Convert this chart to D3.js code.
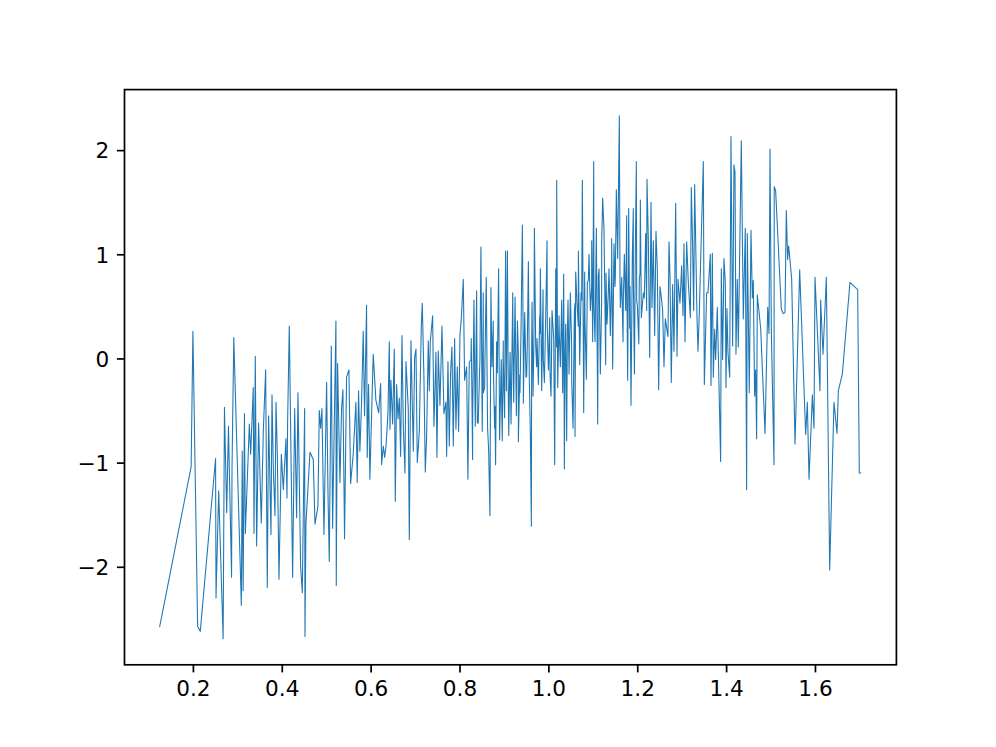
<!DOCTYPE html>
<html lang="en">
<head>
<meta charset="utf-8">
<title>Noisy series</title>
<script src="https://d3js.org/d3.v7.min.js"></script>
<style>
	body { margin: 0; background: #fff; }
	text { font-family: "DejaVu Sans", sans-serif; font-size: 21.6px; fill: #000; }
</style>
</head>
<body>
<script>
// values (x, y): peaks and troughs
var xs = [
	0.125, 0.196, 0.200, 0.2106, 0.2166, 0.251, 0.252, 0.258, 0.268, 0.271, 0.276, 0.280, 0.287, 0.288, 0.292, 0.309, 0.311, 0.313, 0.316, 0.318, 0.327, 0.330,
	0.3358, 0.3375, 0.3404, 0.3434, 0.3479, 0.3539, 0.3584, 0.3637, 0.3674, 0.3704, 0.3757, 0.378, 0.381, 0.3847, 0.387, 0.390, 0.3937, 0.399, 0.4035, 0.4094,
	0.4117, 0.4132, 0.4169, 0.4244, 0.429, 0.4334, 0.4364, 0.4424, 0.4462, 0.4514, 0.4522, 0.4544, 0.4634, 0.4709, 0.4747, 0.4814, 0.4844, 0.4874, 0.4904,
	0.4949, 0.5009, 0.5039, 0.5069, 0.5114, 0.5144, 0.5174, 0.5219, 0.5226, 0.5256, 0.5309, 0.5346, 0.5376, 0.5413, 0.5458, 0.5511, 0.5549, 0.5608, 0.5668,
	0.5698, 0.5728, 0.5758, 0.5796, 0.5833, 0.5863, 0.5908, 0.5923, 0.5953, 0.5983, 0.6058, 0.6118, 0.618,
	0.6225, 0.6247, 0.6285, 0.6315, 0.6345, 0.639, 0.642, 0.6435, 0.6457, 0.6495, 0.6532, 0.6555, 0.6585, 0.6615, 0.6645, 0.6675, 0.6705, 0.6735, 0.6772,
	0.6795, 0.6847, 0.687, 0.6907, 0.696, 0.699, 0.702, 0.705, 0.7095, 0.714, 0.7162, 0.72, 0.723, 0.726, 0.7297, 0.732, 0.7342, 0.7395, 0.7425, 0.747,
	0.7492, 0.7522, 0.756, 0.7605, 0.765, 0.7695, 0.771, 0.774, 0.777, 0.780, 0.783, 0.786, 0.789, 0.792, 0.795, 0.798, 0.801, 0.804, 0.8085, 0.8115,
	0.816, 0.819, 0.822, 0.8265, 0.8295, 0.8325, 0.8355, 0.8385, 0.8422, 0.846, 0.8482, 0.8512, 0.8535, 0.8565, 0.8602, 0.8632, 0.8655, 0.8685, 0.8707,
	0.873, 0.876, 0.879, 0.8812, 0.8835, 0.888, 0.8902, 0.894, 0.8962, 0.8985, 0.9015, 0.9037,
	0.9056, 0.9078, 0.9108, 0.9138, 0.916, 0.9198, 0.922, 0.925, 0.928, 0.9303, 0.9325, 0.9355, 0.9385, 0.9415, 0.9437, 0.9467, 0.9497, 0.9527, 0.955,
	0.9572, 0.9595, 0.9617, 0.9632, 0.9655, 0.9685, 0.9715, 0.9745, 0.9775, 0.9805, 0.982, 0.985, 0.988, 0.991, 0.994, 0.997, 1.000, 1.003, 1.006, 1.0082,
	1.012, 1.0142, 1.0165, 1.0187, 1.021, 1.024, 1.027, 1.030, 1.0322, 1.0345, 1.036, 1.039, 1.0412, 1.0442, 1.0465, 1.0495, 1.0525, 1.0555, 1.0585, 1.060,
	1.0615, 1.0645, 1.0675, 1.0705, 1.0735, 1.0765, 1.0795, 1.0817, 1.0855, 1.0877, 1.0915, 1.0945, 1.0975, 1.0997, 1.102, 1.105, 1.108, 1.111, 1.114,
	1.117, 1.120, 1.1222, 1.1252, 1.129, 1.132, 1.1365, 1.1395, 1.1425, 1.1447, 1.1477, 1.1507, 1.153, 1.156, 1.1597, 1.162, 1.165, 1.168, 1.171, 1.174,
	1.1762, 1.1785, 1.1807, 1.183, 1.186, 1.189, 1.1912,
	1.1937, 1.1957, 1.198, 1.2005, 1.2035, 1.2047, 1.207, 1.2092, 1.213, 1.216, 1.219, 1.2212, 1.222, 1.225, 1.228, 1.231, 1.2332, 1.2362, 1.2392, 1.2422,
	1.2452, 1.2482, 1.2512, 1.2542, 1.2572, 1.2602, 1.2632, 1.2692, 1.2715, 1.2737, 1.2767, 1.2797, 1.2827, 1.2865, 1.2895, 1.2917, 1.2962, 1.300, 1.303,
	1.3052, 1.3075, 1.3112, 1.315, 1.3195, 1.3217, 1.3247, 1.327, 1.3292, 1.3322, 1.3345, 1.3367, 1.3397, 1.3442, 1.3487, 1.351, 1.3562, 1.3592, 1.3645,
	1.366, 1.369, 1.3712, 1.3742, 1.3765, 1.3802, 1.3877, 1.3892, 1.3922, 1.3952, 1.3982, 1.3997, 1.402, 1.4042, 1.408, 1.411, 1.4147, 1.4177, 1.420,
	1.4222, 1.4252, 1.4275, 1.4342, 1.4387, 1.4432, 1.4462, 1.4477, 1.4522, 1.456, 1.459, 1.4612, 1.4642, 1.4665, 1.4687, 1.4702,
	1.4778, 1.4876, 1.4936, 1.4966, 1.4988, 1.5018, 1.5078, 1.5083, 1.5115, 1.5243, 1.5288, 1.5325, 1.5355, 1.5385, 1.5408, 1.5476, 1.5551, 1.5656,
	1.5791, 1.5828, 1.5866, 1.5941, 1.5978, 1.6001, 1.6113, 1.6128, 1.6181, 1.6256, 1.6331, 1.6428, 1.6496, 1.6526, 1.6616, 1.6788, 1.6961, 1.6998, 1.7043
];
var ys = [
	-2.58, -1.04, 0.26, -2.57, -2.62, -0.96, -2.30, -1.27, -2.69, -0.47, -1.48, -0.65, -2.10, -1.06, 0.20, -2.37, -0.89, -2.23, -0.53, -1.68, -0.63, -0.92,
	-0.28, -1.68, 0.02, -1.80, -0.62, -1.58, -0.70, -0.11, -2.20, -0.55, -1.69, -0.35, -1.06, -1.51, -0.42, -0.92, -2.12, -0.92, -1.26, -0.77,
	-1.34, -0.60, 0.31, -2.10, -0.48, -1.53, -0.33, -2.00, -2.25, -0.48, -2.67, -1.59, -0.90, -0.97, -1.59, -1.42, -0.50, -0.67, -0.48,
	-1.69, -0.23, -1.27, -1.95, 0.12, -1.63, -0.82, 0.36, -2.18, -0.05, -1.19, -0.48, -0.30, -1.73, -0.18, -0.11, -1.20, -0.92, -0.42,
	-1.19, -0.31, -0.89, -0.42, 0.26, -0.55, 0.51, -0.95, -0.25, -1.16, 0.04, -0.40, -0.52,
	-0.24, -1.02, -0.84, -0.95, -0.85, -0.52, 0.16, -0.68, -0.21, -0.63, 0.09, -1.37, -0.25, -0.58, -0.38, -0.94, 0.22, -0.65, -1.10,
	-0.03, -0.48, -1.74, 0.17, -0.89, 0.01, 0.09, -1.00, -0.70, 0.31, 0.53, -0.20, -1.09, -0.75, 0.17, -0.31, 0.16, 0.41, -0.65, 0.06,
	-0.95, 0.07, -0.45, 0.31, -0.53, -0.42, -0.94, -0.03, -0.84, -0.13, 0.11, -0.84, 0.19, -0.68, -0.08, -0.70, 0.22, 0.38, 0.76, -0.21,
	-0.08, -1.16, -0.04, 0.19, -0.97, 0.56, -0.65, 0.65, -0.62, -0.01, 1.07, -0.70, 0.63, -0.28, 0.78, -0.67, -0.87, -1.51, 0.68,
	-0.08, 0.36, -0.67, -1.02, 0.16, 0.86, -0.78, -0.01, -0.79, 0.17, -0.57, 1.03,
	-0.31, 1.03, -0.74, 0.06, -0.63, 0.63, -0.42, 0.59, -0.55, 0.36, -0.80, -0.16, 0.29, 1.28, -0.43, 0.44, -0.18, 0.16, 0.93,
	-0.21, -0.74, -1.61, 0.54, -0.36, 1.25, 0.12, 0.19, -0.25, 0.41, 0.86, -0.31, 0.66, -0.23, 0.39, 1.13, -0.11, 0.39, -0.36, 0.46,
	0.19, -1.02, 0.86, 1.71, -0.28, 0.41, -0.08, 0.56, -0.33, 0.81, -1.06, 0.33, -0.79, 0.56, -0.15, 0.63, -0.21, -0.67, 0.46, -0.75,
	0.83, 0.53, 1.03, -0.06, 0.63, 1.71, -0.52, 0.83, -0.20, 0.73, 1.00, 0.46, 1.13, 0.16, 1.89, 0.16, 1.25, -0.63, 0.86,
	-0.15, 1.10, 1.54, 1.24, -0.06, 0.33, 0.86, 0.22, 1.15, -0.10, 1.10, 0.78, 1.62, 0.96, 2.33, 0.49, 0.78, 0.16, 1.00, 0.46,
	1.37, -0.21, 1.44, 0.29, -0.45, 1.00, 1.44,
	-0.15, 1.03, 1.89, 0.49, 0.14, 0.76, 1.52, 0.39, 0.59, 0.58, 1.20, 0.46, 1.72, 1.13, 0.01, 1.50, 0.49, 1.13, 0.22, 1.22,
	0.86, -0.30, 0.69, 0.59, 0.46, -0.08, 0.38, 0.21, 1.12, 0.80, -0.23, 0.71, 0.07, 1.49, 0.02, 0.76, 0.53, 0.89, 0.41,
	1.10, 0.16, 1.12, 0.73, 0.39, 1.64, 1.07, 0.46, 1.67, 0.96, 0.39, 0.07, 0.44, 1.18, 1.89, -0.25, 0.63, 0.63, 1.00,
	-0.26, 1.01, -0.18, 0.28, -0.01, 0.49, -0.99, 0.86, -0.01, 0.96, 0.73, -0.28, 0.48, 0.06, -0.18, 2.13, 0.12, 1.86, 1.79,
	0.04, 0.76, 0.11, 2.09, 0.38, 1.25, -1.26, 1.20, -0.33, 1.23, 0.58, 0.75, -0.36, -0.11, -0.77, 0.61,
	0.29, -0.72, 0.49, 0.24, 2.01, 0.26, -1.02, 1.65, 1.61, 0.47, 0.43, 0.44, 1.42, 0.95, 1.08, 0.76, -0.82, 0.85,
	-0.73, -0.42, -1.16, -0.35, -0.67, 0.78, -0.31, 0.56, 0.04, 0.78, -2.03, -0.42, -0.72, -0.31, -0.15, 0.73, 0.66, -1.10, -1.10
];
var xsCore = [
	0.8258, 0.8296, 0.8341, 0.8401, 0.8446, 0.8536, 0.8573, 0.8626, 0.8762, 0.8798, 0.8851, 0.8948, 0.8986, 0.9098, 0.9136, 0.9211, 0.9324, 0.9361,
	0.9436, 0.9511, 0.9624, 0.9676, 0.9736, 0.9811, 0.9886, 0.9976, 1.0036, 1.0186, 1.0246, 1.0374, 1.0427, 1.0524, 1.0599, 1.0674, 1.0749, 1.0824,
	1.0899, 1.0974, 1.1026, 1.1124, 1.1199, 1.1297, 1.1349, 1.1424, 1.1499, 1.1612, 1.1687, 1.1763, 1.1838, 1.1913, 1.1988, 1.2063, 1.2138, 1.2213
];
var ysCore = [
	-0.01, -0.59, -0.14, -0.62, -0.21, -0.33, -0.01, -0.40, -0.08, -0.46, -0.14, -0.40, -0.01, -0.33, 0.05, -0.21, 0.05, -0.33,
	-0.01, -0.17, 0.11, 0.24, -0.08, 0.24, -0.01, 0.31, -0.14, 0.11, 0.24, -0.01, 0.24, 0.11, 0.53, 0.31, 0.56, 0.37,
	0.75, 0.69, 0.50, 0.79, 0.56, 0.82, 0.63, 0.88, 0.69, 0.75, 0.56, 0.88, 0.69, 0.75, 0.56, 0.82, 0.63, 0.94
];
var xTicks = [0.2, 0.4, 0.6, 0.8, 1.0, 1.2, 1.4, 1.6];
var yTicks = [-2, -1, 0, 1, 2];

var W = 996, H = 747;
var margin = {top: 89.6, right: 99.6, bottom: 82.2, left: 124.5};
var width = W - margin.left - margin.right,
	height = H - margin.top - margin.bottom;

var data = xs.map(function(x, i) { return {x: x, y: ys[i]}; })
	.concat(xsCore.map(function(x, i) { return {x: x, y: ysCore[i]}; }))
	.sort(function(a, b) { return a.x - b.x; });

// matplotlib style 5% padding
function padded(ext) {
	var p = (ext[1] - ext[0]) * 0.05;
	return [ext[0] - p, ext[1] + p];
}

var x = d3.scaleLinear().domain(padded(d3.extent(data, function(d) { return d.x; }))).range([0, width]);
var y = d3.scaleLinear().domain(padded(d3.extent(data, function(d) { return d.y; }))).range([height, 0]);

var svg = d3.select("body").append("svg")
	.attr("width", W)
	.attr("height", H)
	.append("g")
	.attr("transform", "translate(" + margin.left + "," + margin.top + ")");

svg.append("clipPath").attr("id", "clip")
	.append("rect").attr("width", width).attr("height", height);

var line = d3.line()
	.x(function(d) { return x(d.x); })
	.y(function(d) { return y(d.y); });

svg.append("path")
	.datum(data)
	.attr("clip-path", "url(#clip)")
	.attr("fill", "none")
	.attr("stroke", "#1f77b4")
	.attr("stroke-width", 1.08)
	.attr("stroke-linejoin", "round")
	.attr("d", line);

var fmtX = d3.format(".1f");
var fmtY = function(v) { return String(v).replace("-", "\u2212"); };

var xAxis = svg.append("g")
	.attr("transform", "translate(0," + height + ")")
	.call(d3.axisBottom(x).tickValues(xTicks).tickFormat(fmtX).tickSize(7.6).tickPadding(7.6));

var yAxis = svg.append("g")
	.call(d3.axisLeft(y).tickValues(yTicks).tickFormat(fmtY).tickSize(7.6).tickPadding(7.6));

[xAxis, yAxis].forEach(function(a) {
	a.select(".domain").remove();
	a.selectAll(".tick line").attr("stroke", "#000").attr("stroke-width", 1.7);
	a.selectAll("text").attr("font-family", "DejaVu Sans, sans-serif").attr("font-size", 21.6).attr("fill", "#000");
});
xAxis.selectAll("text").attr("dy", "0.73em");
yAxis.selectAll("text").attr("dy", "0.36em");

svg.append("rect")
	.attr("width", width)
	.attr("height", height)
	.attr("fill", "none")
	.attr("stroke", "#000")
	.attr("stroke-width", 1.7);
</script>
</body>
</html>
